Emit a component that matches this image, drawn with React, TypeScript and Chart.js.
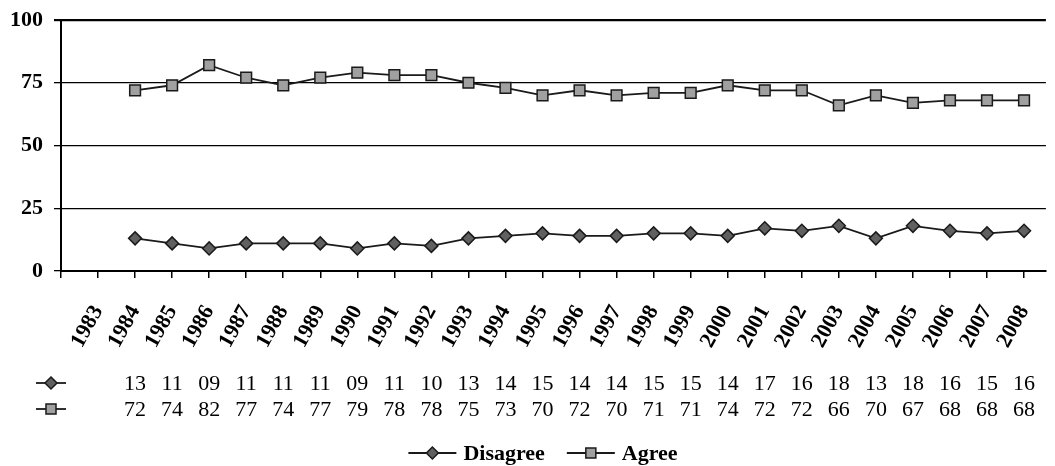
import React, { useEffect, useRef } from "react";
import { Chart, registerables } from "chart.js";

Chart.register(...registerables);

// Survey years shown on the axis (1982 is the unlabeled axis origin)
const years = [1983, 1984, 1985, 1986, 1987, 1988, 1989, 1990, 1991, 1992, 1993, 1994, 1995, 1996, 1997, 1998, 1999, 2000, 2001, 2002, 2003, 2004, 2005, 2006, 2007, 2008];

// Percent disagreeing / agreeing per year (no survey in 1983)
const disagree: (number | null)[] = [null, 13, 11, 9, 11, 11, 11, 9, 11, 10, 13, 14, 15, 14, 14, 15, 15, 14, 17, 16, 18, 13, 18, 16, 15, 16];
const agree: (number | null)[] = [null, 72, 74, 82, 77, 74, 77, 79, 78, 78, 75, 73, 70, 72, 70, 71, 71, 74, 72, 72, 66, 70, 67, 68, 68, 68];

const yTicks = [0, 25, 50, 75, 100];
const seriesNames = ["Disagree", "Agree"];

const SERIF = "'Liberation Serif', 'Times New Roman', serif";
const LINE = "#1a1a1a";
const DIAMOND_FILL = "#606060";
const SQUARE_FILL = "#a0a0a0";
const YEAR_PX = 37.04; // horizontal spacing of one year on the axis

type Marker = "diamond" | "square";

function drawKey(ctx: CanvasRenderingContext2D, x0: number, x1: number, y: number, marker: Marker) {
  ctx.save();
  ctx.strokeStyle = LINE;
  ctx.lineWidth = 1.8;
  ctx.beginPath();
  ctx.moveTo(x0, y);
  ctx.lineTo(x1, y);
  ctx.stroke();
  const cx = (x0 + x1) / 2;
  ctx.beginPath();
  if (marker === "diamond") {
    const r = 6;
    ctx.moveTo(cx, y - r);
    ctx.lineTo(cx + r, y);
    ctx.lineTo(cx, y + r);
    ctx.lineTo(cx - r, y);
    ctx.closePath();
    ctx.fillStyle = DIAMOND_FILL;
  } else {
    const s = 5;
    ctx.rect(cx - s, y - s, 2 * s, 2 * s);
    ctx.fillStyle = SQUARE_FILL;
  }
  ctx.fill();
  ctx.lineWidth = 1.5;
  ctx.strokeStyle = LINE;
  ctx.stroke();
  ctx.restore();
}

// Data table under the axis labels plus the bottom legend
const tableAndLegend = {
  id: "tableAndLegend",
  afterDraw(chart: any) {
    const ctx: CanvasRenderingContext2D = chart.ctx;
    const xs = chart.scales.x;
    const rows: { values: (number | null)[]; marker: Marker; y: number }[] = [
      { values: disagree, marker: "diamond", y: 383 },
      { values: agree, marker: "square", y: 409 },
    ];
    ctx.save();
    rows.forEach((row) => {
      drawKey(ctx, 36, 66, row.y, row.marker);
      ctx.font = `22px ${SERIF}`;
      ctx.fillStyle = "#000";
      ctx.textAlign = "center";
      ctx.textBaseline = "middle";
      row.values.forEach((v, i) => {
        if (v === null) return;
        ctx.fillText(String(v).padStart(2, "0"), xs.getPixelForValue(years[i]), row.y + 1);
      });
    });

    // legend
    ctx.font = `bold 22px ${SERIF}`;
    const keyW = 48;
    const gapText = 7;
    const gapItem = 22;
    const widths = seriesNames.map((n) => ctx.measureText(n).width);
    const total = widths.reduce((a, w) => a + keyW + gapText + w, 0) + gapItem;
    let x = 543 - total / 2;
    const ly = 453;
    seriesNames.forEach((n, i) => {
      drawKey(ctx, x, x + keyW, ly, i === 0 ? "diamond" : "square");
      x += keyW + gapText;
      ctx.fillStyle = "#000";
      ctx.textAlign = "left";
      ctx.textBaseline = "middle";
      ctx.fillText(n, x, ly + 1);
      x += widths[i] + gapItem;
    });
    ctx.restore();
  },
};

export default function App() {
  const ref = useRef<HTMLCanvasElement | null>(null);

  useEffect(() => {
    if (!ref.current) return;
    const toPoints = (vals: (number | null)[]) => years.map((yr, i) => ({ x: yr, y: vals[i] }));
    const chart = new Chart(ref.current, {
      type: "line",
      data: {
        datasets: [
          {
            label: seriesNames[0],
            data: toPoints(disagree) as any,
            borderColor: LINE,
            borderWidth: 1.8,
            pointStyle: "rectRot",
            pointRadius: 6.5,
            pointBackgroundColor: DIAMOND_FILL,
            pointBorderColor: LINE,
            pointBorderWidth: 1.5,
            tension: 0,
          },
          {
            label: seriesNames[1],
            data: toPoints(agree) as any,
            borderColor: LINE,
            borderWidth: 1.8,
            pointStyle: "rect",
            pointRadius: 7.6,
            pointBackgroundColor: SQUARE_FILL,
            pointBorderColor: LINE,
            pointBorderWidth: 1.5,
            tension: 0,
          },
        ],
      },
      options: {
        animation: false,
        responsive: false,
        devicePixelRatio: 1,
        layout: { padding: { top: 20, left: 11, right: 0, bottom: 0 } },
        plugins: { legend: { display: false }, tooltip: { enabled: false } },
        scales: {
          x: {
            type: "linear",
            min: 1982,
            max: 2008.84,
            afterBuildTicks: (scale: any) => {
              scale.ticks = [1982, ...years].map((v) => ({ value: v }));
            },
            afterFit: (scale: any) => {
              scale.height = 195;
              scale.paddingRight = 0;
              scale.paddingLeft = 0;
            },
            grid: {
              drawOnChartArea: false,
              drawTicks: true,
              tickLength: 7,
              color: "#000",
              lineWidth: 1.5,
            },
            border: { display: true, color: "#000", width: 2 },
            ticks: {
              autoSkip: false,
              minRotation: 61,
              maxRotation: 61,
              padding: 23,
              color: "#000",
              font: { family: SERIF, size: 22, weight: "bold" },
              callback: (v: any) => (v === 1982 ? "" : String(v)),
            },
          },
          y: {
            min: 0,
            max: 100,
            afterBuildTicks: (scale: any) => {
              scale.ticks = yTicks.map((v) => ({ value: v }));
            },
            afterFit: (scale: any) => {
              scale.width = 50;
              scale.paddingTop = 0;
              scale.paddingBottom = 0;
            },
            grid: {
              color: "#000",
              lineWidth: (c: any) => (c.tick && c.tick.value === 100 ? 2.2 : 1.3),
              tickLength: 7,
            },
            border: { display: true, color: "#000", width: 2 },
            ticks: {
              padding: 11,
              color: "#000",
              font: { family: SERIF, size: 22, weight: "bold" },
            },
          },
        },
      },
      plugins: [tableAndLegend],
    });
    // keep one year = YEAR_PX across whatever width the plot area ended up with
    const area = chart.chartArea;
    const span = (area.right - area.left) / YEAR_PX;
    (chart.options.scales as any).x.max = 1982 + span;
    chart.update();
    return () => chart.destroy();
  }, []);

  return (
    <div style={{ position: "absolute", left: 0, top: 0, width: 1055, height: 466, background: "#fff" }}>
      <canvas ref={ref} width={1055} height={466} style={{ display: "block" }} />
    </div>
  );
}
